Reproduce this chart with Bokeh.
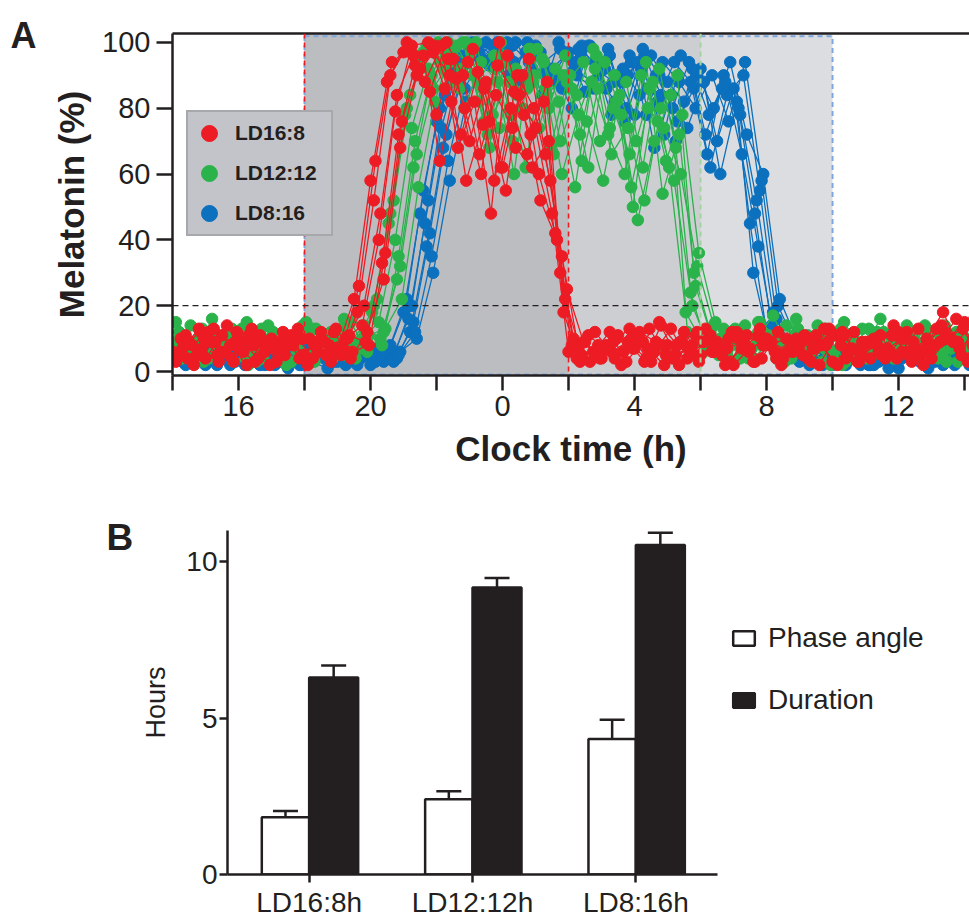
import numpy as np
from bokeh.plotting import figure
from bokeh.models import (ColumnDataSource, Range1d, FixedTicker, Span, Legend, LegendItem,
                          Label, Whisker, TeeHead, LinearAxis, FactorRange)
from bokeh.transform import dodge
from bokeh.embed import file_html
from bokeh.resources import INLINE

# ---------------- Panel A data ----------------
CONDITIONS = ["LD16:8", "LD12:12", "LD8:16"]
COLORS = ["#ed1c24", "#2bb34b", "#0b70bd"]
LIGHTS_OFF_H = 18          # 18:00 for all conditions
LIGHTS_ON_H = [26, 30, 34] # 02:00, 06:00, 10:00 next day
THRESHOLD_PCT = 20
FIRST_SAMPLE_H = 14.0
SAMPLE_STEP_H = 0.5
X_TICKS_H = [14, 16, 18, 20, 22, 24, 26, 28, 30, 32, 34, 36, 38]
X_TICK_LABELS = ["", "16", "", "20", "", "0", "", "4", "", "8", "", "12", ""]
Y_TICKS = [0, 20, 40, 60, 80, 100]

LD16_8_OFFSETS_H = [0.0, 0.25, 0.1, 0.35, 0.15, 0.4, 0.3, 0.45]
LD16_8_MELATONIN = [
    [6, 9, 4, 11, 7, 3, 10, 8, 5, 12, 7, 22, 58, 88, 97, 92, 78, 95, 70, 88, 62, 84, 74, 48, 6,
     9, 4, 11, 7, 3, 8, 12, 5, 9, 2, 7, 10, 4, 8, 11, 3, 6, 9, 5, 12, 7, 4, 10, 15],
    [10, 5, 13, 8, 2, 9, 6, 11, 4, 8, 10, 14, 40, 79, 99, 100, 86, 72, 91, 58, 80, 66, 82, 30, 4,
     6, 12, 3, 9, 15, 5, 8, 10, 2, 7, 11, 6, 9, 4, 13, 8, 3, 10, 6, 12, 2, 9, 16, 8],
    [3, 8, 12, 6, 9, 4, 7, 11, 2, 9, 5, 18, 52, 90, 100, 96, 64, 89, 98, 76, 55, 90, 60, 42, 8,
     11, 7, 2, 10, 6, 13, 4, 9, 7, 12, 3, 8, 10, 5, 2, 11, 7, 9, 4, 6, 13, 8, 10, 3],
    [8, 12, 5, 3, 10, 7, 12, 4, 9, 6, 11, 9, 33, 72, 93, 99, 95, 80, 60, 93, 85, 72, 88, 18, 3,
     5, 9, 13, 4, 8, 2, 11, 6, 10, 8, 4, 12, 7, 3, 9, 11, 5, 8, 14, 6, 10, 18, 7, 12],
    [5, 2, 9, 14, 6, 11, 3, 8, 10, 5, 7, 26, 64, 94, 98, 88, 99, 68, 82, 48, 96, 78, 52, 40, 10,
     3, 8, 6, 12, 9, 4, 7, 13, 5, 10, 3, 9, 6, 11, 8, 2, 12, 4, 7, 10, 5, 13, 9, 4],
    [11, 7, 3, 9, 13, 8, 5, 10, 6, 12, 4, 12, 28, 68, 90, 97, 90, 58, 75, 100, 68, 62, 70, 22, 5,
     8, 4, 10, 7, 2, 9, 12, 6, 3, 11, 8, 5, 10, 7, 13, 4, 9, 6, 11, 3, 8, 12, 5, 17],
    [7, 13, 9, 4, 11, 6, 9, 13, 8, 3, 10, 20, 48, 84, 96, 85, 100, 90, 66, 84, 74, 95, 66, 35, 7,
     12, 6, 9, 3, 14, 8, 5, 11, 7, 9, 13, 4, 6, 10, 8, 12, 3, 9, 11, 5, 7, 14, 9, 16],
    [4, 10, 6, 12, 8, 2, 11, 5, 9, 13, 6, 8, 36, 76, 92, 99, 82, 94, 86, 62, 90, 80, 58, 25, 9,
     4, 10, 7, 13, 5, 9, 3, 8, 12, 6, 10, 2, 9, 7, 12, 5, 8, 11, 4, 9, 6, 10, 13, 7],
]

LD12_12_OFFSETS_H = [0.05, 0.3, 0.2, 0.45, 0.1, 0.35, 0.25, 0.4]
LD12_12_MELATONIN = [
    [9, 14, 5, 11, 7, 3, 12, 8, 15, 6, 10, 4, 18, 45, 78, 95, 100, 88, 97, 72, 94, 85, 98, 66, 90,
     76, 58, 84, 70, 88, 62, 18, 9, 5, 13, 7, 11, 3, 8, 14, 6, 10, 4, 12, 7, 9, 5, 11, 8],
    [4, 10, 7, 13, 2, 9, 11, 6, 3, 12, 8, 14, 10, 28, 62, 88, 96, 100, 82, 92, 70, 98, 86, 60, 78,
     92, 66, 74, 52, 80, 90, 30, 12, 6, 9, 15, 4, 10, 7, 13, 2, 8, 11, 5, 9, 14, 6, 3, 10],
    [12, 6, 16, 8, 4, 13, 7, 10, 5, 11, 16, 7, 22, 52, 84, 99, 92, 86, 100, 78, 88, 62, 95, 82, 56,
     88, 72, 60, 90, 76, 58, 24, 7, 13, 4, 10, 17, 6, 9, 3, 12, 8, 5, 11, 7, 13, 4, 9, 6],
    [7, 3, 9, 12, 6, 10, 2, 14, 8, 5, 9, 11, 13, 22, 56, 82, 98, 94, 76, 100, 84, 90, 68, 88, 94,
     70, 82, 50, 86, 64, 78, 36, 15, 8, 4, 11, 6, 13, 9, 2, 10, 7, 16, 5, 12, 8, 3, 11, 6],
    [15, 8, 4, 10, 13, 6, 9, 3, 11, 7, 13, 9, 20, 48, 80, 97, 94, 99, 90, 68, 96, 80, 74, 92, 86,
     62, 94, 78, 46, 70, 84, 12, 6, 10, 12, 4, 9, 14, 7, 11, 3, 8, 13, 6, 10, 5, 12, 7, 9],
    [6, 11, 8, 3, 12, 9, 5, 10, 13, 4, 7, 12, 8, 35, 70, 90, 100, 80, 94, 88, 60, 98, 84, 90, 72,
     96, 80, 66, 94, 54, 72, 26, 10, 4, 14, 8, 6, 11, 3, 9, 15, 7, 12, 4, 8, 13, 6, 10, 5],
    [10, 5, 12, 8, 15, 4, 11, 7, 13, 9, 5, 10, 15, 40, 74, 92, 97, 92, 88, 96, 78, 86, 94, 70, 84,
     98, 74, 88, 62, 92, 68, 20, 8, 12, 6, 15, 9, 4, 11, 7, 13, 5, 10, 8, 14, 6, 9, 12, 4],
    [8, 13, 6, 10, 4, 14, 9, 12, 7, 11, 15, 6, 12, 32, 66, 86, 94, 100, 86, 74, 92, 88, 80, 96, 64,
     86, 90, 56, 80, 74, 60, 32, 14, 9, 5, 12, 8, 16, 6, 10, 3, 13, 7, 11, 9, 5, 14, 8, 12],
]

LD8_16_OFFSETS_H = [0.0, 0.2, 0.4, 0.1, 0.3, 0.25, 0.15, 0.35]
LD8_16_MELATONIN = [
    [4, 7, 2, 5, 8, 3, 6, 1, 5, 7, 3, 6, 2, 5, 18, 48, 76, 92, 98, 100, 95, 88, 99, 92, 97,
     85, 94, 90, 78, 96, 88, 82, 92, 70, 86, 45, 12, 6, 3, 7, 2, 5, 8, 4, 1, 6, 3, 7, 5],
    [6, 3, 8, 4, 2, 7, 5, 8, 3, 1, 6, 4, 7, 3, 12, 38, 68, 88, 96, 99, 90, 97, 84, 100, 92,
     88, 98, 76, 92, 82, 94, 88, 66, 90, 78, 52, 18, 8, 5, 2, 7, 4, 6, 1, 8, 3, 5, 2, 6],
    [2, 5, 7, 3, 6, 4, 8, 2, 5, 3, 7, 5, 3, 6, 10, 30, 58, 82, 94, 97, 100, 92, 88, 96, 99,
     90, 82, 94, 86, 72, 96, 90, 80, 94, 72, 60, 22, 10, 4, 6, 2, 8, 3, 5, 7, 1, 4, 6, 3],
    [5, 8, 3, 6, 4, 7, 2, 6, 8, 4, 5, 2, 6, 8, 22, 55, 80, 95, 100, 93, 98, 86, 96, 90, 80,
     99, 92, 88, 94, 68, 84, 74, 88, 60, 82, 30, 8, 4, 6, 3, 5, 8, 2, 7, 4, 6, 3, 8, 5],
    [3, 6, 4, 8, 5, 2, 7, 4, 6, 3, 8, 6, 4, 4, 15, 42, 72, 90, 97, 92, 99, 94, 90, 86, 98,
     94, 78, 90, 96, 84, 76, 86, 62, 84, 90, 55, 16, 7, 2, 5, 8, 3, 6, 4, 7, 2, 5, 8, 4],
    [7, 4, 6, 2, 8, 5, 3, 7, 4, 6, 2, 8, 5, 6, 20, 52, 84, 96, 99, 96, 88, 100, 94, 98, 90,
     86, 96, 80, 98, 90, 70, 92, 78, 88, 66, 38, 10, 5, 3, 8, 4, 6, 2, 7, 5, 3, 8, 4, 6],
    [5, 3, 7, 4, 6, 2, 8, 5, 3, 6, 4, 7, 3, 4, 16, 45, 74, 93, 98, 95, 100, 90, 97, 88, 94,
     99, 86, 92, 84, 90, 80, 94, 72, 86, 80, 48, 14, 6, 4, 7, 3, 6, 2, 5, 8, 3, 6, 4, 2],
    [3, 6, 2, 7, 4, 8, 5, 2, 6, 4, 3, 7, 5, 5, 12, 35, 64, 86, 95, 100, 94, 98, 92, 86, 97,
     92, 88, 96, 78, 94, 88, 80, 90, 76, 94, 58, 20, 9, 6, 3, 7, 2, 5, 8, 4, 6, 2, 5, 7],
]

# ---------------- Panel B data ----------------
BAR_CATEGORIES = ["LD16:8h", "LD12:12h", "LD8:16h"]
PHASE_ANGLE_H = [1.83, 2.41, 4.33]
PHASE_ANGLE_SEM = [0.20, 0.25, 0.62]
DURATION_H = [6.30, 9.18, 10.54]
DURATION_SEM = [0.38, 0.30, 0.39]
B_Y_TICKS = [0, 5, 10]

INK = "#231f20"
FONT = "Liberation Sans"

# ================= Panel A =================
pa = figure(frame_width=797, frame_height=342, x_range=Range1d(14, 38.15), y_range=Range1d(-1.2, 102.7),
            output_backend="svg", toolbar_location=None,
            min_border_left=172, min_border_right=0, min_border_top=33, min_border_bottom=105)
pa.xgrid.visible = False
pa.ygrid.visible = False
pa.outline_line_color = None

# light/dark shading (one layer per photoperiod, longest first)
shade_colors = ["#dcdde0", "#cdced1", "#bcbdc1"]
for on_h, sc in zip(reversed(LIGHTS_ON_H), shade_colors):
    pa.quad(left=[LIGHTS_OFF_H], right=[on_h], bottom=[-5], top=[110], fill_color=sc, line_color=None)

# blue dashed box of longest night
pa.quad(left=[LIGHTS_OFF_H], right=[LIGHTS_ON_H[2]], bottom=[-0.9], top=[101.9], fill_color=None,
        line_color="#7ea7dd", line_width=2, line_dash="5 4")
pa.add_layout(Span(location=LIGHTS_ON_H[1], dimension="height", line_color="#a3d49e", line_width=2, line_dash="5 4"))
for loc in [LIGHTS_OFF_H, LIGHTS_ON_H[0]]:
    pa.add_layout(Span(location=loc, dimension="height", line_color="#ed1c24", line_width=1.6, line_dash="5 4"))
pa.add_layout(Span(location=THRESHOLD_PCT, dimension="width", line_color=INK, line_width=1.3, line_dash="6 4"))

all_sets = [(LD16_8_OFFSETS_H, LD16_8_MELATONIN), (LD12_12_OFFSETS_H, LD12_12_MELATONIN),
            (LD8_16_OFFSETS_H, LD8_16_MELATONIN)]
legend_renderers = [None, None, None]
for idx in [2, 1, 0]:
    offs, subjects = all_sets[idx]
    col = COLORS[idx]
    for j, (off, vals) in enumerate(zip(offs, subjects)):
        t = [FIRST_SAMPLE_H + off + SAMPLE_STEP_H * k for k in range(len(vals))]
        pa.line(t, vals, line_color=col, line_width=1.3)
        pa.scatter(t, vals, size=11.5, fill_color=col, line_color=col)
        if j == 0:
            # hidden copy, used only to draw the legend marker
            legend_renderers[idx] = pa.scatter(t, vals, size=17, fill_color=col, line_color=col, visible=False)

leg_a = Legend(items=[LegendItem(label=n, renderers=[r]) for n, r in zip(CONDITIONS, legend_renderers)],
               location=(14, 139), background_fill_color="#c2c4c9", background_fill_alpha=1,
               border_line_color="#8b8c90", border_line_width=2, padding=1, spacing=-8,
               glyph_width=40, glyph_height=40, label_height=20, label_width=95, label_standoff=6,
               label_text_font=FONT, label_text_font_style="bold", label_text_font_size="21px",
               label_text_color=INK)
pa.add_layout(leg_a)

for ax in [pa.xaxis[0], pa.yaxis[0]]:
    ax.axis_line_width = 2.5
    ax.axis_line_color = INK
    ax.major_tick_line_width = 2.5
    ax.major_tick_line_color = INK
    ax.major_tick_out = 16
    ax.major_tick_in = 0
    ax.minor_tick_line_color = None
    ax.major_label_text_font = FONT
    ax.major_label_text_font_size = "29px"
    ax.major_label_text_color = INK
    ax.axis_label_text_font = FONT
    ax.axis_label_text_font_style = "bold"
    ax.axis_label_text_font_size = "35px"
    ax.axis_label_text_color = INK

pa.xaxis[0].ticker = FixedTicker(ticks=X_TICKS_H)
pa.xaxis[0].major_label_overrides = {t: l for t, l in zip(X_TICKS_H, X_TICK_LABELS)}
pa.xaxis[0].axis_label = "Clock time (h)"
pa.xaxis[0].major_tick_out = 15
pa.xaxis[0].major_label_standoff = 5
pa.xaxis[0].axis_label_standoff = 10
pa.yaxis[0].ticker = FixedTicker(ticks=Y_TICKS)
pa.yaxis[0].axis_label = "Melatonin (%)"
pa.yaxis[0].major_label_standoff = 6
pa.yaxis[0].axis_label_standoff = 8

top_axis = LinearAxis(ticker=FixedTicker(ticks=[]), axis_line_width=2.5, axis_line_color=INK,
                      major_tick_line_color=None, minor_tick_line_color=None)
pa.add_layout(top_axis, "above")

pa.add_layout(Label(x=10, y=35, x_units="canvas", y_units="canvas", text="A", text_baseline="alphabetic",
                    text_font=FONT, text_font_style="bold", text_font_size="36px", text_color=INK), "left")

# ================= Panel B =================
pb = figure(frame_width=490, frame_height=344, x_range=FactorRange(factors=BAR_CATEGORIES, range_padding=0),
            y_range=Range1d(0, 11), output_backend="svg", toolbar_location=None,
            min_border_left=227, min_border_right=252, min_border_top=50, min_border_bottom=42)
pb.xgrid.visible = False
pb.ygrid.visible = False
pb.outline_line_color = None

src = ColumnDataSource(dict(cat=BAR_CATEGORIES, phase=PHASE_ANGLE_H, dur=DURATION_H,
                            phase_lo=[v - e for v, e in zip(PHASE_ANGLE_H, PHASE_ANGLE_SEM)],
                            phase_hi=[v + e for v, e in zip(PHASE_ANGLE_H, PHASE_ANGLE_SEM)],
                            dur_lo=[v - e for v, e in zip(DURATION_H, DURATION_SEM)],
                            dur_hi=[v + e for v, e in zip(DURATION_H, DURATION_SEM)]))

r_phase = pb.vbar(x=dodge("cat", -0.145, range=pb.x_range), top="phase", width=0.29, source=src,
                  fill_color="white", line_color=INK, line_width=2.5)
r_dur = pb.vbar(x=dodge("cat", 0.15, range=pb.x_range), top="dur", width=0.30, source=src,
                fill_color=INK, line_color=INK, line_width=2.5)

pb.add_layout(Whisker(base=dodge("cat", -0.145, range=pb.x_range), lower="phase_lo", upper="phase_hi",
                      source=src, line_color=INK, line_width=2.5,
                      upper_head=TeeHead(size=25, line_color=INK, line_width=2.5),
                      lower_head=TeeHead(size=25, line_color=INK, line_width=2.5)))
pb.add_layout(Whisker(base=dodge("cat", 0.15, range=pb.x_range), lower="dur", upper="dur_hi",
                      source=src, line_color=INK, line_width=2.5,
                      upper_head=TeeHead(size=25, line_color=INK, line_width=2.5),
                      lower_head=None))

leg_b = Legend(items=[LegendItem(label="Phase angle", renderers=[r_phase]),
                      LegendItem(label="Duration", renderers=[r_dur])],
               location=(13, 158), padding=0, margin=0, spacing=30, border_line_color=None,
               background_fill_color=None, glyph_width=27, glyph_height=18, label_standoff=11,
               label_text_font=FONT, label_text_font_size="28px", label_text_color=INK)
pb.add_layout(leg_b, "right")

for ax in [pb.xaxis[0], pb.yaxis[0]]:
    ax.axis_line_width = 2.5
    ax.axis_line_color = INK
    ax.major_tick_line_width = 2.5
    ax.major_tick_line_color = INK
    ax.major_tick_out = 8
    ax.major_tick_in = 0
    ax.minor_tick_line_color = None
    ax.major_label_text_font = FONT
    ax.major_label_text_font_size = "28px"
    ax.major_label_text_color = INK
    ax.axis_label_text_font = FONT
    ax.axis_label_text_font_style = "normal"
    ax.axis_label_text_font_size = "27px"
    ax.axis_label_text_color = INK
pb.yaxis[0].ticker = FixedTicker(ticks=B_Y_TICKS)
pb.yaxis[0].axis_label = "Hours"
pb.yaxis[0].major_label_standoff = 2
pb.yaxis[0].axis_label_standoff = 12
pb.xaxis[0].major_label_standoff = 4

pb.add_layout(Label(x=106, y=57, x_units="canvas", y_units="canvas", text="B", text_baseline="alphabetic",
                    text_font=FONT, text_font_style="bold", text_font_size="37px", text_color=INK), "left")

open("out.html", "w").write(file_html([pa, pb], INLINE))
